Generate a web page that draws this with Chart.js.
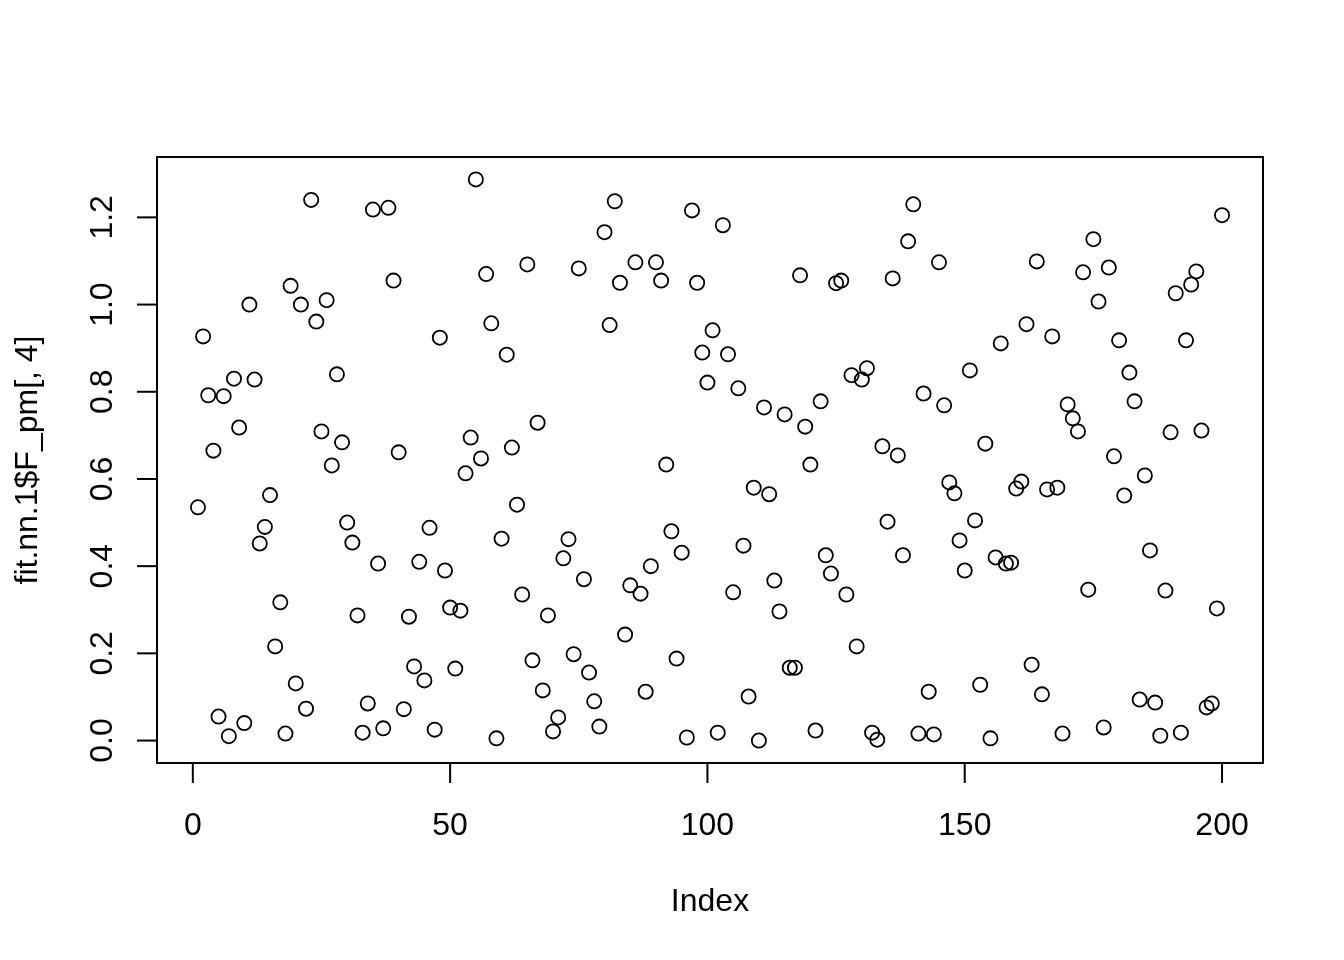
<!DOCTYPE html>
<html>
<head>
<meta charset="utf-8">
<script src="https://cdn.jsdelivr.net/npm/chart.js@4/dist/chart.umd.min.js"></script>
<style>
	html, body { margin: 0; padding: 0; background: #fff; }
	#wrap { width: 1344px; height: 960px; }
</style>
</head>
<body>
<div id="wrap"><canvas id="firstChart" width="1344" height="960"></canvas></div>
<script>
// fit.nn.1$F_pm[, 4] by index
const values = [
	0.535, 0.927, 0.792, 0.665, 0.055, 0.790, 0.010, 0.830, 0.718, 0.040,
	1.000, 0.828, 0.452, 0.490, 0.563, 0.216, 0.317, 0.016, 1.043, 0.131,
	1.000, 0.073, 1.240, 0.961, 0.709, 1.010, 0.631, 0.840, 0.684, 0.500,
	0.454, 0.287, 0.018, 0.085, 1.218, 0.406, 0.028, 1.222, 1.055, 0.661,
	0.072, 0.284, 0.170, 0.410, 0.138, 0.488, 0.025, 0.924, 0.390, 0.305,
	0.165, 0.298, 0.613, 0.695, 1.287, 0.647, 1.070, 0.957, 0.005, 0.463,
	0.885, 0.672, 0.541, 0.335, 1.092, 0.184, 0.729, 0.115, 0.287, 0.021,
	0.053, 0.418, 0.462, 0.198, 1.083, 0.370, 0.156, 0.090, 0.032, 1.166,
	0.953, 1.237, 1.050, 0.243, 0.356, 1.097, 0.337, 0.112, 0.400, 1.097,
	1.055, 0.633, 0.480, 0.188, 0.431, 0.007, 1.216, 1.050, 0.890, 0.821,
	0.941, 0.018, 1.182, 0.886, 0.340, 0.808, 0.447, 0.101, 0.580, 0.000,
	0.764, 0.565, 0.367, 0.296, 0.748, 0.167, 0.167, 1.067, 0.720, 0.633,
	0.023, 0.778, 0.425, 0.383, 1.049, 1.055, 0.335, 0.838, 0.216, 0.828,
	0.854, 0.018, 0.002, 0.675, 0.502, 1.060, 0.654, 0.425, 1.145, 1.230,
	0.016, 0.796, 0.112, 0.014, 1.097, 0.769, 0.592, 0.567, 0.459, 0.390,
	0.849, 0.505, 0.128, 0.681, 0.005, 0.420, 0.911, 0.406, 0.408, 0.578,
	0.594, 0.955, 0.174, 1.099, 0.106, 0.576, 0.927, 0.580, 0.016, 0.771,
	0.739, 0.709, 1.074, 0.346, 1.150, 1.007, 0.030, 1.085, 0.652, 0.918,
	0.562, 0.844, 0.778, 0.094, 0.608, 0.436, 0.087, 0.011, 0.344, 0.707,
	1.026, 0.018, 0.918, 1.046, 1.076, 0.711, 0.076, 0.085, 0.303, 1.205
];
const xTicks = [0, 50, 100, 150, 200];
const yTicks = [0, 0.2, 0.4, 0.6, 0.8, 1.0, 1.2];
const yTickLabels = ['0.0', '0.2', '0.4', '0.6', '0.8', '1.0', '1.2'];
const xTitle = 'Index';
const yTitle = 'fit.nn.1$F_pm[, 4]';

let points = values.map((v, i) => ({ x: i + 1, y: v }));

const FONT = '32px "Liberation Sans", Arial, Helvetica, sans-serif';

// R style box + axes, drawn from the chart's own scales
const baseAxes = {
	id: 'baseAxes',
	afterDraw(chart) {
		let ctx = chart.ctx;
		let a = chart.chartArea;
		let xs = chart.scales.x;
		let ys = chart.scales.y;
		ctx.save();
		ctx.strokeStyle = '#000';
		ctx.fillStyle = '#000';
		ctx.lineWidth = 2;
		ctx.lineCap = 'butt';
		ctx.strokeRect(a.left, a.top, a.right - a.left, a.bottom - a.top);

		ctx.font = FONT;
		// x axis
		let x0 = xs.getPixelForValue(xTicks[0]);
		let x1 = xs.getPixelForValue(xTicks[xTicks.length - 1]);
		ctx.beginPath();
		ctx.moveTo(x0, a.bottom);
		ctx.lineTo(x1, a.bottom);
		ctx.stroke();
		ctx.textAlign = 'center';
		ctx.textBaseline = 'alphabetic';
		for (let t of xTicks) {
			let px = xs.getPixelForValue(t);
			ctx.beginPath();
			ctx.moveTo(px, a.bottom);
			ctx.lineTo(px, a.bottom + 20);
			ctx.stroke();
			ctx.fillText(String(t), px, 835);
		}
		ctx.fillText(xTitle, (a.left + a.right) / 2, 911);

		// y axis
		let y0 = ys.getPixelForValue(yTicks[0]);
		let y1 = ys.getPixelForValue(yTicks[yTicks.length - 1]);
		ctx.beginPath();
		ctx.moveTo(a.left, y0);
		ctx.lineTo(a.left, y1);
		ctx.stroke();
		yTicks.forEach(function(t, i) {
			let py = ys.getPixelForValue(t);
			ctx.beginPath();
			ctx.moveTo(a.left, py);
			ctx.lineTo(a.left - 20, py);
			ctx.stroke();
			ctx.save();
			ctx.translate(112, py);
			ctx.rotate(-Math.PI / 2);
			ctx.fillText(yTickLabels[i], 0, 0);
			ctx.restore();
		});
		ctx.save();
		ctx.translate(37, (a.top + a.bottom) / 2);
		ctx.rotate(-Math.PI / 2);
		ctx.fillText(yTitle, 0, 0);
		ctx.restore();
		ctx.restore();
	}
};

let ctx = document.getElementById('firstChart');
new Chart(ctx, {
	type: 'scatter',
	data: {
		datasets: [{
			label: yTitle,
			data: points,
			backgroundColor: 'rgba(0,0,0,0)',
			borderColor: '#000',
			pointBorderWidth: 1.8,
			pointRadius: 7.1,
			pointHoverRadius: 7.1,
		}],
	},
	options: {
		responsive: false,
		animation: false,
		devicePixelRatio: 1,
		layout: { padding: { left: 157, top: 157, right: 81, bottom: 197 } },
		plugins: {
			legend: { display: false },
			tooltip: { enabled: false },
		},
		scales: {
			x: { type: 'linear', display: false, min: -6.96, max: 207.96 },
			y: { type: 'linear', display: false, min: -0.0515, max: 1.3385 },
		},
	},
	plugins: [baseAxes],
});
</script>
</body>
</html>
